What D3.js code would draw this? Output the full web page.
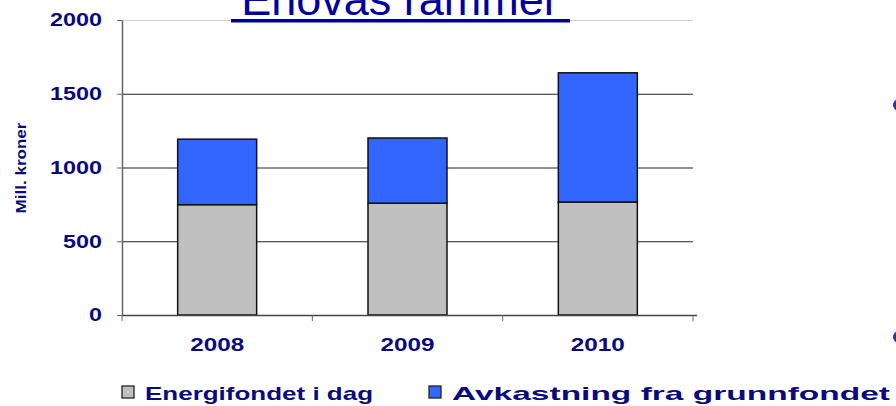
<!DOCTYPE html>
<html>
<head>
<meta charset="utf-8">
<script src="https://cdn.jsdelivr.net/npm/d3@7"></script>
<style>
  body { margin: 0; background: #fff; }
  text { font-family: Arial, "Liberation Sans", sans-serif; }
</style>
</head>
<body>
<svg id="chart" width="896" height="406"></svg>
<script>
// data
const years = ["2008", "2009", "2010"];
const energifondet = [748, 758, 766];
const avkastning = [444, 442, 876];
const yTicks = [0, 500, 1000, 1500, 2000];
const seriesNames = ["Energifondet i dag", "Avkastning fra grunnfondet"];
const seriesColors = ["#c0c0c0", "#3366ff"];

const svg = d3.select("#chart");
const navy = "#0a0a80";
const margin = { top: 20, left: 122, right: 203, bottom: 91 };
const width = 896, height = 406;
const digitW = 13; // stretched glyph width of the labels

const x = d3.scaleBand()
  .domain(years)
  .range([margin.left, width - margin.right])
  .paddingInner(0.585)
  .paddingOuter(0.2925);

const y = d3.scaleLinear()
  .domain([0, 2000])
  .range([height - margin.bottom, margin.top]);

// gridlines
svg.append("g")
  .selectAll("line")
  .data(yTicks.filter(d => d > 0))
  .join("line")
  .attr("x1", margin.left)
  .attr("x2", width - margin.right)
  .attr("y1", d => y(d) + 0.5)
  .attr("y2", d => y(d) + 0.5)
  .attr("stroke", d => d === 2000 ? "#cfcfcf" : "#222")
  .attr("stroke-width", 1);

// stack the two series
const rows = years.map((yr, i) => ({ year: yr, a: energifondet[i], b: avkastning[i] }));
const stacked = d3.stack().keys(["a", "b"])(rows);

svg.append("g")
  .selectAll("g")
  .data(stacked)
  .join("g")
  .attr("fill", (d, i) => seriesColors[i])
  .selectAll("rect")
  .data(d => d)
  .join("rect")
  .attr("x", d => x(d.data.year))
  .attr("width", x.bandwidth())
  .attr("y", d => y(d[1]))
  .attr("height", d => y(d[0]) - y(d[1]))
  .attr("stroke", "#111")
  .attr("stroke-width", 1.5);

// y axis
const yAxis = g => g
  .attr("transform", "translate(" + margin.left + ",0)")
  .call(d3.axisLeft(y).tickValues(yTicks).tickFormat(d3.format("d"))
    .tickSize(5).tickSizeOuter(0).tickPadding(15))
  .call(g => g.select(".domain").attr("stroke", "#666").attr("stroke-width", 1.5))
  .call(g => g.selectAll(".tick line").attr("stroke", "#666"))
  .call(g => g.selectAll("text")
    .attr("fill", navy)
    .attr("font-size", 18.5)
    .attr("font-weight", "bold")
    .attr("textLength", d => String(d).length * digitW)
    .attr("lengthAdjust", "spacingAndGlyphs")
    .style("font-family", "Arial, 'Liberation Sans', sans-serif"));
svg.append("g").call(yAxis);

// x axis with ticks at band boundaries
const bounds = years.map(d => x(d) - x.step() * x.paddingInner() / 2).concat([width - margin.right]);
const xg = svg.append("g");
xg.append("line")
  .attr("x1", margin.left)
  .attr("x2", width - margin.right + 4)
  .attr("y1", y(0) + 0.5)
  .attr("y2", y(0) + 0.5)
  .attr("stroke", "#444")
  .attr("stroke-width", 1.5);
xg.selectAll("line.tk")
  .data(bounds)
  .join("line")
  .attr("class", "tk")
  .attr("x1", d => d)
  .attr("x2", d => d)
  .attr("y1", y(0))
  .attr("y2", y(0) + 6)
  .attr("stroke", "#666");
xg.selectAll("text")
  .data(years)
  .join("text")
  .attr("x", d => x(d) + x.bandwidth() / 2 - 27)
  .attr("y", y(0) + 36)
  .attr("fill", navy)
  .attr("font-size", 18.5)
  .attr("font-weight", "bold")
  .attr("textLength", d => d.length * digitW + 2)
  .attr("lengthAdjust", "spacingAndGlyphs")
  .text(d => d);

// y label
svg.append("text")
  .attr("transform", "translate(26," + (y(1000) + 46) + ") rotate(-90)")
  .attr("fill", navy)
  .attr("font-size", 15.5)
  .attr("font-weight", "bold")
  .attr("textLength", 91)
  .attr("lengthAdjust", "spacingAndGlyphs")
  .text("Mill. kroner");

// title, cut off at top
svg.append("text")
  .attr("x", 400)
  .attr("y", 15)
  .attr("text-anchor", "middle")
  .attr("fill", "#0000a0")
  .attr("font-size", 45)
  .text("Enovas rammer");
svg.append("rect")
  .attr("x", 231)
  .attr("y", 19)
  .attr("width", 339)
  .attr("height", 3.5)
  .attr("fill", "#0000a0");

// legend
const legendX = [122, 429];
const legendW = [251, 461];
const lg = svg.append("g")
  .selectAll("g")
  .data(seriesNames)
  .join("g")
  .attr("transform", (d, i) => "translate(" + legendX[i] + ",386)");
lg.append("rect")
  .attr("width", 12)
  .attr("height", 12)
  .attr("fill", (d, i) => seriesColors[i])
  .attr("stroke", "#222")
  .attr("stroke-width", 1.3);
lg.append("text")
  .attr("x", 23)
  .attr("y", 13.5)
  .attr("fill", navy)
  .attr("font-size", 19)
  .attr("font-weight", "bold")
  .attr("textLength", (d, i) => legendW[i] - 23)
  .attr("lengthAdjust", "spacingAndGlyphs")
  .text(d => d);

// stray bullet dots at right edge
svg.append("g")
  .selectAll("circle")
  .data([105, 337])
  .join("circle")
  .attr("cx", 899)
  .attr("cy", d => d)
  .attr("r", 6)
  .attr("fill", "#33339a");
</script>
</body>
</html>
